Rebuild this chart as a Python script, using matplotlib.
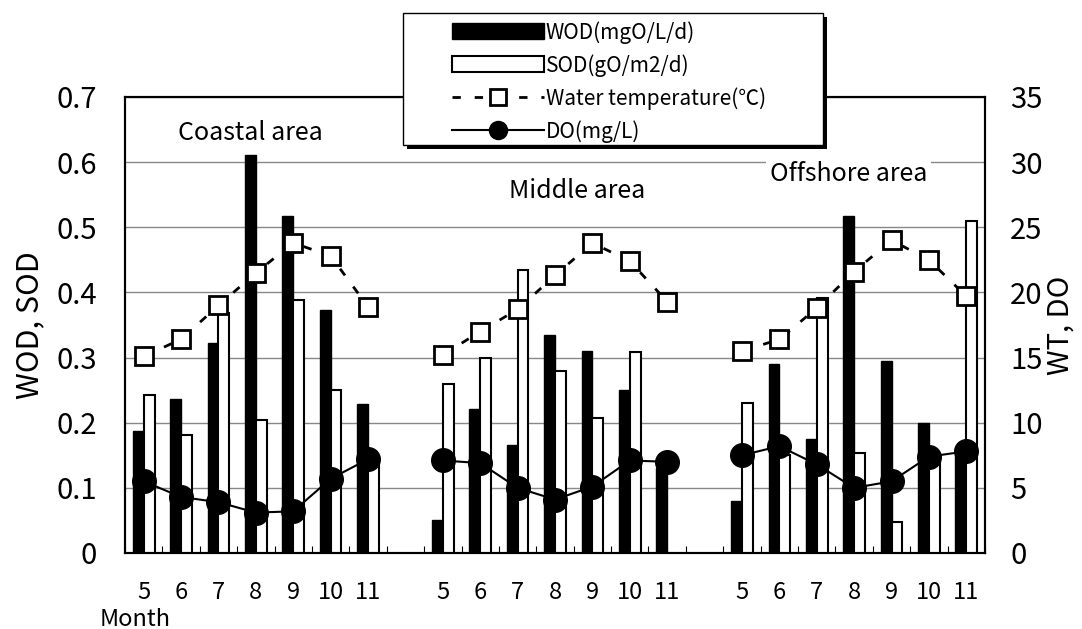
import numpy as np
import matplotlib
matplotlib.use("Agg")
import matplotlib.pyplot as plt
from matplotlib.patches import Patch, Rectangle
from matplotlib.lines import Line2D

plt.rcParams['font.family'] = ['Noto Sans CJK JP', 'DejaVu Sans']

months = ['5', '6', '7', '8', '9', '10', '11']
areas = ['Coastal area', 'Middle area', 'Offshore area']

wod_coastal = [0.187, 0.236, 0.322, 0.611, 0.518, 0.373, 0.229]
sod_coastal = [0.242, 0.181, 0.368, 0.204, 0.389, 0.250, 0.14]
wt_coastal = [15.1, 16.4, 19.0, 21.5, 23.8, 22.8, 18.9]
do_coastal = [5.5, 4.3, 3.9, 3.1, 3.2, 5.7, 7.2]

wod_middle = [0.051, 0.221, 0.166, 0.335, 0.310, 0.250, 0.13]
sod_middle = [0.260, 0.300, 0.434, 0.279, 0.207, 0.308, np.nan]
wt_middle = [15.2, 17.0, 18.7, 21.3, 23.8, 22.4, 19.3]
do_middle = [7.1, 6.9, 5.0, 4.1, 5.1, 7.1, 7.0]

wod_offshore = [0.080, 0.290, 0.175, 0.517, 0.294, 0.199, 0.15]
sod_offshore = [0.230, 0.15, 0.391, 0.154, 0.048, 0.14, 0.509]
wt_offshore = [15.5, 16.4, 18.8, 21.6, 24.0, 22.5, 19.7]
do_offshore = [7.5, 8.2, 6.8, 5.0, 5.5, 7.4, 7.8]


def join(a, b, c):
    # one empty slot between the areas
    return np.array(list(a) + [np.nan] + list(b) + [np.nan] + list(c), dtype=float)


wod = join(wod_coastal, wod_middle, wod_offshore)
sod = join(sod_coastal, sod_middle, sod_offshore)
wt = join(wt_coastal, wt_middle, wt_offshore)
do = join(do_coastal, do_middle, do_offshore)
labels = months + [''] + months + [''] + months
x = np.arange(len(labels))

W, H = 1082, 629
fig = plt.figure(figsize=(W / 100, H / 100), dpi=100)
ax = fig.add_axes([125 / W, 1 - 553 / H, 860 / W, 456 / H])
ax2 = ax.twinx()

w = 0.29
ax.bar(x - w / 2, wod, w, color='black', edgecolor='black', linewidth=1, zorder=3)
ax.bar(x + w / 2, sod, w, color='white', edgecolor='black', linewidth=1.5, zorder=3)

ax2.plot(x, wt, color='black', linestyle=(0, (3, 5)), linewidth=2,
         marker='s', markersize=12.5, markerfacecolor='white',
         markeredgecolor='black', markeredgewidth=2)
ax2.plot(x, do, color='black', linestyle='-', linewidth=1.5,
         marker='o', markersize=17, markerfacecolor='black')

ax.set_xlim(-0.5, len(labels) - 0.5)
ax.set_ylim(0, 0.7)
ax2.set_ylim(0, 35)

ax.set_yticks(np.arange(0, 0.71, 0.1))
ax.set_yticklabels(['0', '0.1', '0.2', '0.3', '0.4', '0.5', '0.6', '0.7'])
ax2.set_yticks(np.arange(0, 36, 5))
ax.tick_params(axis='y', length=0, pad=20, labelsize=21)
ax2.tick_params(axis='y', length=0, pad=18, labelsize=21)

ax.set_xticks(np.arange(-0.5, len(labels), 1))
ax.set_xticklabels([])
ax.tick_params(axis='x', which='major', direction='in', length=5, width=0.8)
ax.set_xticks(x, minor=True)
ax.set_xticklabels(labels, minor=True, fontsize=17)
ax.tick_params(axis='x', which='minor', length=0, pad=20)

ax.yaxis.grid(True, color='#888888', linewidth=1)
ax.set_axisbelow(True)
for sp in list(ax.spines.values()) + list(ax2.spines.values()):
    sp.set_linewidth(1.5)

ax.set_ylabel('WOD, SOD', fontsize=22, labelpad=8)
ax2.set_ylabel('WT, DO', fontsize=21, labelpad=2)

bb = dict(facecolor='white', edgecolor='none', pad=3)
ax.text(2.85, 0.645, areas[0], fontsize=18, ha='center', va='center', bbox=bb, zorder=4)
ax.text(11.6, 0.556, areas[1], fontsize=18, ha='center', va='center', bbox=bb, zorder=4)
ax.text(18.85, 0.582, areas[2], fontsize=18, ha='center', va='center', bbox=bb, zorder=4)

fig.text(100 / W, 1 - 626 / H, 'Month', fontsize=17, ha='left', va='baseline')

# legend frame with a black drop shadow
fig.add_artist(Rectangle((407 / W, 1 - 149 / H), 420 / W, 132 / H,
                         transform=fig.transFigure, facecolor='black',
                         edgecolor='none', zorder=9))
fig.add_artist(Rectangle((403 / W, 1 - 145 / H), 420 / W, 132 / H,
                         transform=fig.transFigure, facecolor='white',
                         edgecolor='black', linewidth=1, zorder=10))

handles = [
    Patch(facecolor='black', edgecolor='black'),
    Patch(facecolor='white', edgecolor='black', linewidth=1.5),
    Line2D([], [], color='black', linestyle=(0, (3, 5)), linewidth=2, marker='s',
           markersize=11, markerfacecolor='white', markeredgewidth=2),
    Line2D([], [], color='black', linewidth=1.5, marker='o', markersize=13),
]
leg_labels = ['WOD(mgO/L/d)', 'SOD(gO/m2/d)', 'Water temperature(℃)', 'DO(mg/L)']
leg = fig.legend(handles, leg_labels, loc='upper left',
                 bbox_to_anchor=(452 / W, 1 - 21 / H), fontsize=15,
                 handlelength=4.4, handleheight=0.8, handletextpad=0.1,
                 labelspacing=0.5, borderpad=0, borderaxespad=0,
                 frameon=False)
leg.set_zorder(11)

fig.savefig('out.png', dpi=100)
